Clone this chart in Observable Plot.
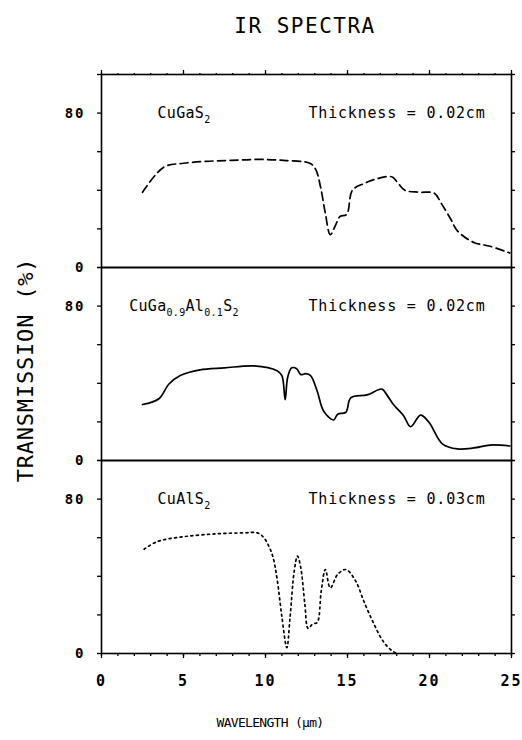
<!DOCTYPE html>
<html><head><meta charset="utf-8">
<script src="https://cdn.jsdelivr.net/npm/d3@7"></script>
<script src="https://cdn.jsdelivr.net/npm/@observablehq/plot@0.6"></script>
<style>
body{margin:0;background:#fff;}
svg{display:block}
g[aria-label="x-axis tick label"] text, g[aria-label="y-axis tick label"] text{letter-spacing:2px}
</style>
</head><body><div id="chart"></div>
<script>
const panels = ["CuGaS2", "CuGa0.9Al0.1S2", "CuAlS2"];
const formulas = ["CuGaS_{2}", "CuGa_{0.9}Al_{0.1}S_{2}", "CuAlS_{2}"];
const thickness = ["Thickness = 0.02cm", "Thickness = 0.02cm", "Thickness = 0.03cm"];
const xMajorTicks = [0, 5, 10, 15, 20, 25];
const xMinorTicks = [0,1,2,3,4,5,6,7,8,9,10,11,12,13,14,15,16,17,18,19,20,21,22,23,24,25];
const yTicks = [0, 20, 40, 60, 80, 100];
const yLabeled = [0, 80];

// CuGaS2 (dashed)
const gasWl = [2.5,3.8,5.0,6.4,7.9,9.5,11.1,12.7,13.05,13.35,13.65,13.95,14.25,14.55,14.95,15.3,16.0,16.8,17.7,18.1,18.5,19.4,20.3,20.7,21.3,21.7,22.7,23.7,24.9];
const gasT  = [39,52,54,55,55.5,56,55.5,54,51,42,28,17,21.5,26.5,27.5,40,43.5,46,47,43.5,40,39,38.5,33.5,25,19,13,11,7.5];
// CuGa0.9Al0.1S2 (solid)
const midWl = [2.5,3.5,4.1,4.8,6.0,7.5,9.3,10.7,11.0,11.2,11.35,11.6,11.9,12.15,12.45,12.75,13.15,13.55,14.15,14.4,14.9,15.2,16.2,17.1,17.4,17.8,18.4,18.85,19.45,19.95,20.8,21.7,22.7,23.7,24.9];
const midT  = [29,32,39.5,44,47,48,49,46.5,44,31.5,43,48,47.5,44.5,45,44,36,25.5,21,24,25,32.5,34,37,34,29,23.5,17.5,23.5,20,8.5,6,6.5,8,7.5];
// CuAlS2 (dotted)
const alsWl = [2.6,3.4,5.0,7.0,8.7,9.5,9.9,10.4,10.7,11.0,11.3,11.5,11.75,11.95,12.15,12.4,12.6,12.9,13.15,13.4,13.65,13.95,14.4,14.9,15.5,16.0,16.6,17.2,17.7,18.0];
const alsT  = [54,58,60.5,62,62.5,62.5,60,51.5,39,19,3,19,42.5,50.5,44.5,25.5,13,15.5,16,32.5,43.5,34,41,43.5,37.5,27,15.5,6,1.5,0];

const series = [[gasWl, gasT], [midWl, midT], [alsWl, alsT]].map(([wl, t], k) =>
  wl.map((x, i) => ({panel: panels[k], x, y: t[i]})));
const labelRows = panels.map((p, i) => ({panel: p, formula: formulas[i], thick: thickness[i]}));

const font = "DejaVu Sans Mono";
const dashes = ["8,4.5", null, "2,3.5"];

const svg = Plot.plot({
  width: 522, height: 740,
  marginTop: 73, marginBottom: 86, marginLeft: 101, marginRight: 11,
  style: {fontFamily: font, fontSize: "14px", background: "white", color: "black"},
  x: {domain: [0, 25]},
  y: {domain: [0, 100]},
  fy: {domain: panels, axis: null, padding: 0},
  marks: [
    Plot.frame({stroke: "black", strokeWidth: 1.6}),
    ...series.map((d, k) => Plot.line(d, {x: "x", y: "y", fy: "panel", stroke: "black",
        strokeWidth: 1.7, strokeDasharray: dashes[k], curve: "catmull-rom"})),
    Plot.axisX({anchor: "bottom", ticks: xMinorTicks, tickSize: 3, tickFormat: () => "", strokeWidth: 1.3, label: null}),
    Plot.axisX({anchor: "bottom", ticks: xMajorTicks, tickSize: 5, tickPadding: 17, strokeWidth: 1.3,
        fontSize: 15, fontWeight: "bold", label: null}),
    Plot.axisX({anchor: "top", ticks: xMinorTicks, tickSize: 2, tickFormat: () => "", strokeWidth: 1.3, label: null}),
    Plot.axisX({anchor: "top", ticks: xMajorTicks, tickSize: 5, tickFormat: () => "", strokeWidth: 1.3, label: null}),
    Plot.axisY({anchor: "left", ticks: yTicks, tickSize: 4, tickPadding: 12, strokeWidth: 1.3,
        tickFormat: d => yLabeled.includes(d) ? String(d) : "", fontSize: 14, fontWeight: "bold", label: null}),
    Plot.axisY({anchor: "right", ticks: yTicks, tickSize: 3, tickFormat: () => "", strokeWidth: 1.3, label: null}),
    Plot.text(labelRows, {fy: "panel", text: "formula", frameAnchor: "top-left", dx: 82.5, dy: 43,
        textAnchor: "middle", lineAnchor: "bottom", fontSize: 15, fontFamily: font}),
    Plot.text(labelRows, {fy: "panel", text: "thick", frameAnchor: "top-right", dx: -26, dy: 43,
        textAnchor: "end", lineAnchor: "bottom", fontSize: 15, fontFamily: font})
  ]
});

const s = d3.select(svg);
s.selectAll("text").each(function() {
  const str = this.textContent;
  if (str.startsWith("Thickness")) d3.select(this).attr("letter-spacing", 0.8);
  if (!str.includes("_{")) return;
  const el = d3.select(this);
  el.text(null).attr("letter-spacing", 0.3);
  const parts = str.split(/_\{([^}]*)\}/);
  parts.forEach((p, i) => {
    if (!p) return;
    const t = el.append("tspan").text(p);
    if (i % 2 === 1) t.attr("font-size", 10).attr("dy", 5);
    else if (i > 0) t.attr("dy", -5);
  });
});

s.append("text").attr("x", 305).attr("y", 33).attr("text-anchor", "middle")
  .attr("font-family", font).attr("font-size", 21).attr("letter-spacing", 1.5).attr("fill", "black")
  .text("IR SPECTRA");
s.append("text").attr("transform", "translate(33,370) rotate(-90)").attr("text-anchor", "middle")
  .attr("font-family", font).attr("font-size", 22).attr("letter-spacing", 0.8).attr("fill", "black")
  .text("TRANSMISSION (%)");
s.append("text").attr("x", 270).attr("y", 727).attr("text-anchor", "middle")
  .attr("font-family", font).attr("font-size", 13).attr("letter-spacing", -0.7).attr("fill", "black")
  .text("WAVELENGTH (µm)");

document.getElementById("chart").appendChild(svg);
</script>
</body></html>
